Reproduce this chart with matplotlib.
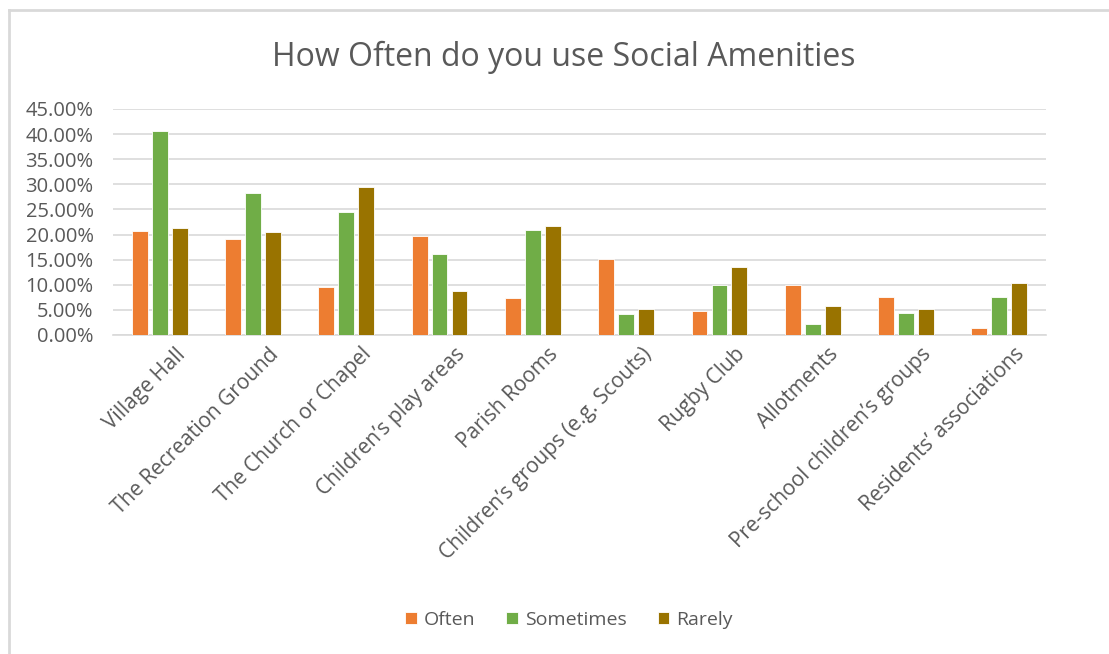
import matplotlib
matplotlib.use("Agg")
import matplotlib.pyplot as plt
import matplotlib.transforms as mtransforms
from matplotlib.ticker import FuncFormatter, MultipleLocator
import numpy as np

plt.rcParams['font.family'] = ['Open Sans', 'DejaVu Sans']

categories = [
    "Village Hall", "The Recreation Ground", "The Church or Chapel",
    "Children\u2019s play areas", "Parish Rooms", "Children\u2019s groups (e.g. Scouts)",
    "Rugby Club", "Allotments", "Pre-school children\u2019s groups",
    "Residents\u2019 associations",
]
often = [20.7, 19.2, 9.5, 19.7, 7.4, 15.1, 4.7, 10.0, 7.5, 1.3]
sometimes = [40.7, 28.2, 24.5, 16.2, 21.0, 4.1, 10.0, 2.1, 4.4, 7.5]
rarely = [21.3, 20.5, 29.5, 8.7, 21.7, 5.1, 13.6, 5.7, 5.1, 10.3]
series_names = ["Often", "Sometimes", "Rarely"]
colors = ["#ED7D31", "#70AD47", "#997300"]

W, H = 1109, 654
fig = plt.figure(figsize=(W / 100, H / 100), dpi=100)
ax = fig.add_axes([113 / W, 1 - 335 / H, (1046 - 113) / W, (335 - 109) / H])

x = np.arange(len(categories))
bw = 0.17
step = 0.214
for i, (vals, name, c) in enumerate(zip([often, sometimes, rarely], series_names, colors)):
    ax.bar(x + (i - 1) * step, vals, width=bw, color=c, label=name,
           edgecolor="white", linewidth=0.6, zorder=3)

ax.set_xlim(-0.5, len(categories) - 0.5)
ax.set_ylim(0, 45)
ax.yaxis.set_major_locator(MultipleLocator(5))
ax.yaxis.set_major_formatter(FuncFormatter(lambda v, p: f"{v:.2f}%"))
ax.grid(axis="y", color="#D9D9D9", linewidth=1.2, zorder=0)
for s in ["top", "right", "left"]:
    ax.spines[s].set_visible(False)
ax.spines["bottom"].set_color("#D9D9D9")
ax.spines["bottom"].set_linewidth(1.2)
ax.tick_params(axis="y", length=0, labelsize=14.5, labelcolor="#595959", pad=14)
ax.tick_params(axis="x", length=0)
ax.set_xticks(x)
ax.set_xticklabels(categories, rotation=45, ha="right", va="top",
                   rotation_mode="anchor", fontsize=15, color="#595959")
offset = mtransforms.ScaledTranslation(15 / 100, -4 / 100, fig.dpi_scale_trans)
for lbl in ax.get_xticklabels():
    lbl.set_transform(lbl.get_transform() + offset)

fig.text(564 / W, 1 - 57 / H, "How Often do you use Social Amenities",
         ha="center", va="center", fontsize=23, color="#595959")

leg = fig.legend(loc="center", bbox_to_anchor=(569 / W, 1 - 620 / H), ncol=3,
                 frameon=False, fontsize=14, handlelength=0.6, handleheight=0.6,
                 handletextpad=0.35, columnspacing=1.6)
for t in leg.get_texts():
    t.set_color("#595959")

# chart frame
fig.add_artist(plt.Line2D([9 / W, 9 / W], [0, 1 - 10 / H], transform=fig.transFigure,
                          color="#D9D9D9", linewidth=2))
fig.add_artist(plt.Line2D([9 / W, 1], [1 - 10 / H, 1 - 10 / H], transform=fig.transFigure,
                          color="#D9D9D9", linewidth=2))

fig.savefig("out.png", dpi=100)
